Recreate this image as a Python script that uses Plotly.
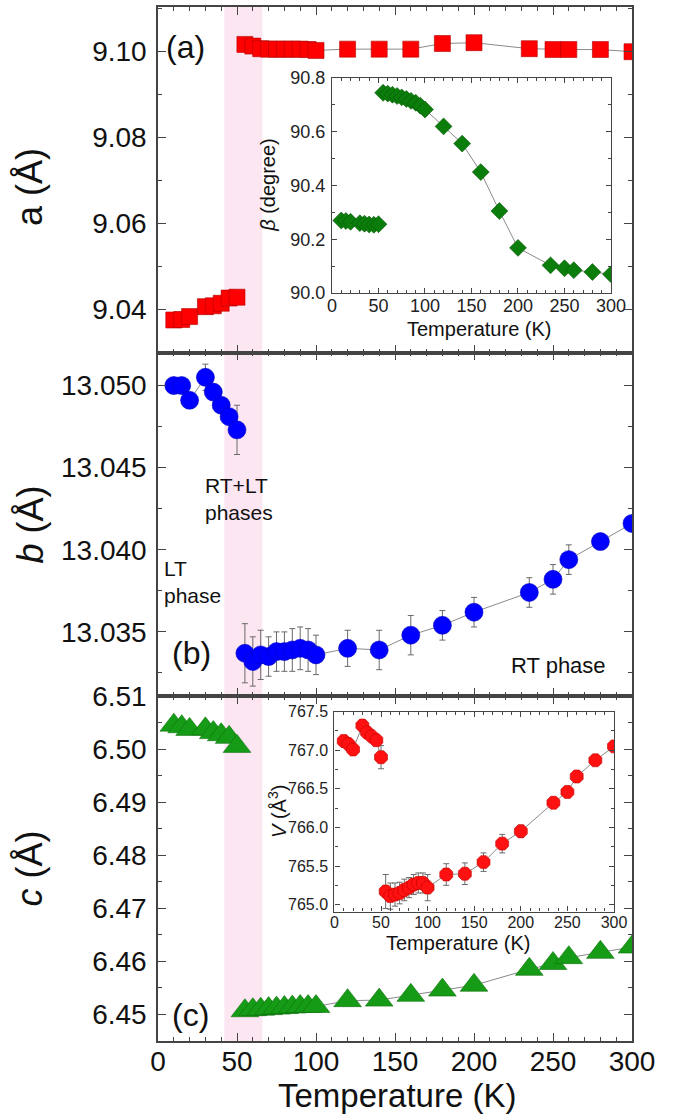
import plotly.graph_objects as go

# ---------------- data ----------------
T_lt = [10, 15, 20, 30, 35, 40, 45, 50]
T_rt = [55, 60, 65, 70, 75, 80, 85, 90, 95, 100, 120, 140, 160, 180, 200, 235, 250, 260, 280, 300]

a_lt = [9.0375, 9.0376, 9.0383, 9.0406, 9.0408, 9.0414, 9.0426, 9.0428]
a_rt = [9.1016, 9.1012, 9.1006, 9.1005, 9.1005, 9.1005, 9.1005, 9.1005, 9.1004, 9.1002,
        9.1005, 9.1005, 9.1005, 9.1018, 9.1020, 9.1006, 9.1004, 9.1004, 9.1004, 9.0999]

b_lt = [13.0500, 13.0500, 13.0491, 13.0505, 13.0496, 13.0488, 13.0481, 13.0473]
b_lt_err = [0.0003, 0.0003, 0.0003, 0.0008, 0.0003, 0.0003, 0.0003, 0.0015]
b_rt = [13.0337, 13.0332, 13.0336, 13.0335, 13.0338, 13.0338, 13.0339, 13.0340, 13.0339, 13.0336,
        13.0340, 13.0339, 13.0348, 13.0354, 13.0362, 13.0374, 13.0382, 13.0394, 13.0405, 13.0416]
b_rt_err = [0.0018, 0.0015, 0.0015, 0.0012, 0.0012, 0.0012, 0.0013, 0.0013, 0.0013, 0.0012,
            0.0011, 0.0012, 0.0012, 0.0009, 0.0009, 0.0009, 0.0009, 0.0009, 0.0004, 0.0004]

c_lt = [6.5045, 6.5042, 6.5037, 6.5038, 6.5031, 6.5027, 6.5022, 6.5005]
c_rt = [6.4507, 6.4509, 6.4510, 6.4511, 6.4512, 6.4513, 6.4514, 6.4515, 6.4515, 6.4515,
        6.4526, 6.4527, 6.4536, 6.4546, 6.4555, 6.4585, 6.4596, 6.4607, 6.4617, 6.4627]

beta_lt = [90.270, 90.268, 90.265, 90.260, 90.258, 90.255, 90.254, 90.256]
beta_rt = [90.745, 90.742, 90.738, 90.733, 90.728, 90.722, 90.715, 90.708, 90.697, 90.683,
           90.620, 90.556, 90.450, 90.305, 90.168, 90.103, 90.092, 90.085, 90.078, 90.070]

V_lt = [767.12, 767.08, 767.01, 767.32, 767.23, 767.18, 767.13, 766.91]
V_lt_err = [0.03, 0.03, 0.03, 0.03, 0.03, 0.03, 0.03, 0.15]
V_rt = [765.17, 765.11, 765.13, 765.15, 765.19, 765.22, 765.26, 765.28, 765.28, 765.22,
        765.39, 765.40, 765.55, 765.79, 765.95, 766.32, 766.46, 766.66, 766.87, 767.05]
V_rt_err = [0.22, 0.17, 0.15, 0.14, 0.14, 0.13, 0.13, 0.13, 0.13, 0.17,
            0.14, 0.14, 0.12, 0.12, 0.08, 0.06, 0.06, 0.06, 0.05, 0.05]

band = [42, 66]  # RT+LT coexistence region (K)

FONT = "Liberation Sans, Arial, sans-serif"
LINE = "#8a8a8a"
FRAME = "#444444"

fig = go.Figure()

def series(x, y, xa, ya, symbol, size, color, edge, err=None):
    kw = {}
    if err is not None:
        kw["error_y"] = dict(type="data", array=err, color="#6a6a6a", thickness=1, width=3)
    fig.add_trace(go.Scatter(
        x=x, y=y, xaxis=xa, yaxis=ya, mode="lines+markers",
        line=dict(color=LINE, width=1),
        marker=dict(symbol=symbol, size=size, color=color, line=dict(color=edge, width=0.6)),
        showlegend=False, **kw))

# panel a (top)
series(T_lt, a_lt, "x3", "y3", "square", 16, "#FF0000", "#B00000")
series(T_rt, a_rt, "x3", "y3", "square", 16, "#FF0000", "#B00000")
# panel b (middle)
series(T_lt, b_lt, "x2", "y2", "circle", 18, "#0000FF", "#0000C0", b_lt_err)
series(T_rt, b_rt, "x2", "y2", "circle", 18, "#0000FF", "#0000C0", b_rt_err)
# panel c (bottom)
series(T_lt, c_lt, "x", "y", "triangle-up", 24, "#169B16", "#0E700E")
series(T_rt, c_rt, "x", "y", "triangle-up", 24, "#169B16", "#0E700E")
# inset beta
series(T_lt, beta_lt, "x4", "y4", "diamond", 13, "#0B7D0B", "#065506")
series(T_rt, beta_rt, "x4", "y4", "diamond", 13, "#0B7D0B", "#065506")
# inset V
series(T_lt, V_lt, "x5", "y5", "octagon", 14, "#FF1111", "#C00000", V_lt_err)
series(T_rt, V_rt, "x5", "y5", "octagon", 14, "#FF1111", "#C00000", V_rt_err)

# pink bands
for xr, yr in [("x", "y"), ("x2", "y2"), ("x3", "y3"), ("x4", "y4"), ("x5", "y5")]:
    fig.add_shape(type="rect", xref=xr, yref=yr + " domain", x0=band[0], x1=band[1], y0=0, y1=1,
                  fillcolor="#FCE6F2", line_width=0, layer="below")

def main_x(showlabels, anchor):
    return dict(range=[0, 300], dtick=50, tick0=0, ticks="inside", ticklen=8, tickwidth=1.3,
                tickcolor=FRAME, showline=True, linecolor=FRAME, linewidth=1.5, mirror="allticks",
                showgrid=False, zeroline=False, anchor=anchor, showticklabels=showlabels,
                minor=dict(dtick=10, ticks="inside", ticklen=4, tickcolor=FRAME, showgrid=False),
                tickfont=dict(size=28, color="#111", family=FONT), ticklabelstandoff=-5)

def main_y(rng, dtick, tick0, fmt, dom, anchor, minor):
    return dict(range=rng, dtick=dtick, tick0=tick0, tickformat=fmt, domain=dom, anchor=anchor,
                ticks="inside", ticklen=8, tickwidth=1.3, tickcolor=FRAME, showline=True,
                linecolor=FRAME, linewidth=1.5, mirror="allticks", showgrid=False, zeroline=False,
                minor=dict(dtick=minor, ticks="inside", ticklen=4, tickcolor=FRAME, showgrid=False),
                tickfont=dict(size=28, color="#111", family=FONT), ticklabelstandoff=4)

def inset_x(dom, anchor, fs):
    return dict(range=[0, 300], dtick=50, tick0=0, domain=dom, anchor=anchor, ticks="inside",
                ticklen=5, tickcolor=FRAME, showline=True, linecolor=FRAME, linewidth=1.2,
                mirror="allticks", showgrid=False, zeroline=False,
                minor=dict(dtick=10, ticks="inside", ticklen=3, tickcolor=FRAME, showgrid=False),
                tickfont=dict(size=fs, color="#222", family=FONT), ticklabelstandoff=-4)

def inset_y(rng, dtick, fmt, dom, anchor, minor, fs):
    return dict(range=rng, dtick=dtick, tickformat=fmt, domain=dom, anchor=anchor, ticks="inside",
                ticklen=5, tickcolor=FRAME, showline=True, linecolor=FRAME, linewidth=1.2,
                mirror="allticks", showgrid=False, zeroline=False,
                minor=dict(dtick=minor, ticks="inside", ticklen=3, tickcolor=FRAME, showgrid=False),
                tickfont=dict(size=fs, color="#222", family=FONT), ticklabelstandoff=2)

fig.update_layout(
    width=678, height=1115, plot_bgcolor="white", paper_bgcolor="white",
    margin=dict(l=158, r=46, t=7, b=74, autoexpand=False),
    font=dict(family=FONT, color="#111"),
    xaxis=main_x(True, "y"),
    xaxis2=main_x(False, "y2"),
    xaxis3=main_x(False, "y3"),
    yaxis=main_y([6.445, 6.51], 0.01, 6.45, ".2f", [0, 0.3337], "x", 0.005),
    yaxis2=main_y([13.0311, 13.0520], 0.005, 13.035, ".3f", [0.3337, 0.6657], "x2", 0.0025),
    yaxis3=main_y([9.0299, 9.1103], 0.02, 9.04, ".2f", [0.6657, 1.0], "x3", 0.01),
    xaxis4=inset_x([0.367, 0.9557], "y4", 18),
    yaxis4=inset_y([90.0, 90.8], 0.2, ".1f", [0.7234, 0.9313], "x4", 0.1, 18),
    xaxis5=inset_x([0.3722, 0.962], "y5", 16),
    yaxis5=inset_y([764.91, 767.5], 0.5, ".1f", [0.1252, 0.3185], "x5", 0.25, 16),
)

def ann(text, x, y, size, angle=0, xanchor="center", align="center"):
    fig.add_annotation(text=text, x=x, y=y, xref="paper", yref="paper", showarrow=False,
                       textangle=angle, xanchor=xanchor, yanchor="middle", align=align,
                       font=dict(size=size, family=FONT, color="#111"))

# axis titles
ann("a (Å)", -0.27, 0.826, 36, -90)
ann("<i>b</i> (Å)", -0.27, 0.4995, 36, -90)
ann("<i>c</i> (Å)", -0.27, 0.1668, 36, -90)
ann("Temperature (K)", 0.5042, -0.0525, 33)
ann("<i>β</i> (degree)", 0.232, 0.828, 20, -90)
ann("<i>V</i> (Å<sup>3</sup>)", 0.2532, 0.2215, 20, -90)
ann("Temperature (K)", 0.679, 0.6886, 20)
ann("Temperature (K)", 0.633, 0.0948, 20)

# panel labels and phase notes
ann("(a)", 0.059, 0.9613, 32)
ann("(b)", 0.0717, 0.3752, 32)
ann("(c)", 0.0696, 0.0251, 32)
ann("RT+LT<br>phases", 0.0949, 0.5242, 21, xanchor="left", align="left")
ann("LT<br>phase", 0.0084, 0.4439, 21, xanchor="left", align="left")
ann("RT phase", 0.7405, 0.3627, 22, xanchor="left", align="left")

fig.write_html("out.html", config={"displayModeBar": False},
               post_script="document.body.style.margin='0';document.body.style.overflow='hidden';")
